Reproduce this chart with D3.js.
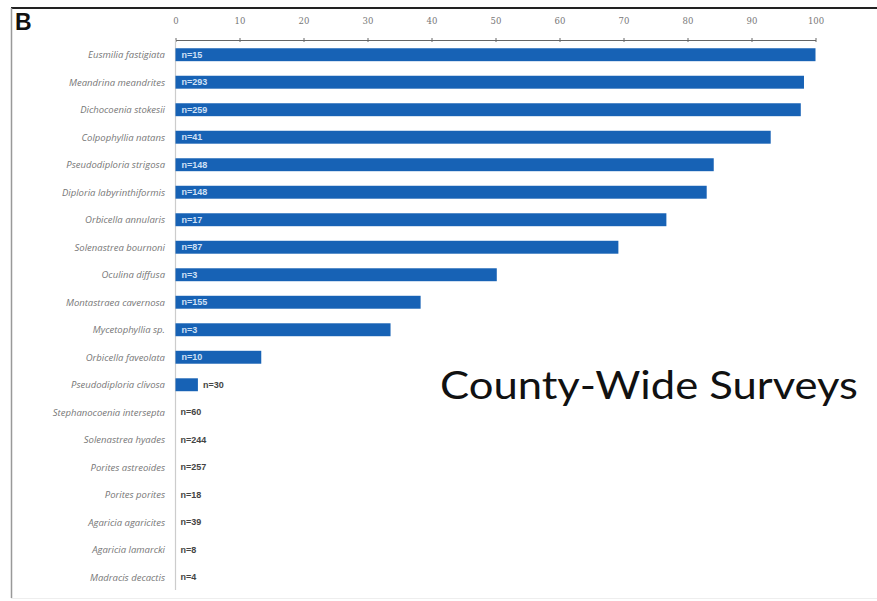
<!DOCTYPE html>
<html><head><meta charset="utf-8">
<script src="https://cdnjs.cloudflare.com/ajax/libs/d3/7.8.5/d3.min.js"></script>
<style>body{margin:0;background:#fff}svg{display:block}</style>
</head><body>
<script>
const species = ["Eusmilia fastigiata","Meandrina meandrites","Dichocoenia stokesii","Colpophyllia natans","Pseudodiploria strigosa","Diploria labyrinthiformis","Orbicella annularis","Solenastrea bournoni","Oculina diffusa","Montastraea cavernosa","Mycetophyllia sp.","Orbicella faveolata","Pseudodiploria clivosa","Stephanocoenia intersepta","Solenastrea hyades","Porites astreoides","Porites porites","Agaricia agaricites","Agaricia lamarcki","Madracis decactis"];
const percents = [100,98.2,97.7,93.0,84.1,83.0,76.7,69.2,50.2,38.3,33.6,13.4,3.5,0,0,0,0,0,0,0];
const nLabels = ["n=15","n=293","n=259","n=41","n=148","n=148","n=17","n=87","n=3","n=155","n=3","n=10","n=30","n=60","n=244","n=257","n=18","n=39","n=8","n=4"];
const xTicks = [0,10,20,30,40,50,60,70,80,90,100];

const W=877,H=601;
const svg=d3.select("body").append("svg").attr("width",W).attr("height",H);
const x=d3.scaleLinear().domain([0,100]).range([175.5,815.5]);
const y=d3.scaleBand().domain(species).range([40,592]).paddingInner(0.53).paddingOuter(0.3);

// frame
svg.append("line").attr("x1",11).attr("x2",W).attr("y1",8).attr("y2",8).attr("stroke","#222").attr("stroke-width",2);
svg.append("line").attr("x1",11.5).attr("x2",11.5).attr("y1",8).attr("y2",598).attr("stroke","#999").attr("stroke-width",1.5);
svg.append("line").attr("x1",11).attr("x2",W).attr("y1",598.5).attr("y2",598.5).attr("stroke","#eee").attr("stroke-width",1);
svg.append("text").attr("x",15).attr("y",30).text("B").attr("font-family","Liberation Sans, Arial, sans-serif").attr("font-weight","bold").attr("font-size",23).attr("fill","#111");

// top axis
const ax=svg.append("g").attr("transform","translate(0,40)")
  .call(d3.axisTop(x).tickValues(xTicks).tickSize(0).tickPadding(16));
ax.select(".domain").attr("stroke","#666").attr("stroke-width",1.2);
ax.selectAll("text").attr("font-family","DejaVu Serif, serif").attr("font-size",8.5).attr("fill","#777");
ax.selectAll(".tick").append("line").attr("y1",-2).attr("y2",2).attr("stroke","#666");

// vertical axis line
svg.append("line").attr("x1",x(0)).attr("x2",x(0)).attr("y1",40).attr("y2",590).attr("stroke","#ccc").attr("stroke-width",1.2);

// bars
const rows=species.map((s,i)=>({s,p:percents[i],n:nLabels[i]}));
svg.selectAll("rect.bar").data(rows).join("rect").attr("class","bar")
  .attr("x",x(0)).attr("y",d=>y(d.s)).attr("height",y.bandwidth())
  .attr("width",d=>x(d.p)-x(0)).attr("fill","#1762b5");

// species labels
svg.selectAll("text.sp").data(rows).join("text").attr("class","sp")
  .attr("x",165).attr("y",d=>y(d.s)+y.bandwidth()/2).attr("dy","0.35em")
  .attr("text-anchor","end").attr("font-family","Open Sans, sans-serif").attr("font-style","italic")
  .attr("font-size",9.5).attr("fill","#777").text(d=>d.s);

// n labels
svg.selectAll("text.n").data(rows).join("text").attr("class","n")
  .attr("x",d=>{const w=x(d.p)-x(0); return w>40? x(0)+6 : x(d.p)+5;})
  .attr("y",d=>y(d.s)+y.bandwidth()/2).attr("dy","0.35em")
  .attr("font-family","Liberation Sans, Arial, sans-serif").attr("font-weight","bold").attr("font-size",9)
  .attr("fill",d=>(x(d.p)-x(0))>40?"#cfe0f5":"#444").text(d=>d.n);

svg.append("text").attr("x",440).attr("y",399).text("County-Wide Surveys")
  .attr("font-family","Lato, sans-serif").attr("font-size",38).attr("fill","#111")
  .attr("textLength",418).attr("lengthAdjust","spacingAndGlyphs");
</script>
</body></html>
